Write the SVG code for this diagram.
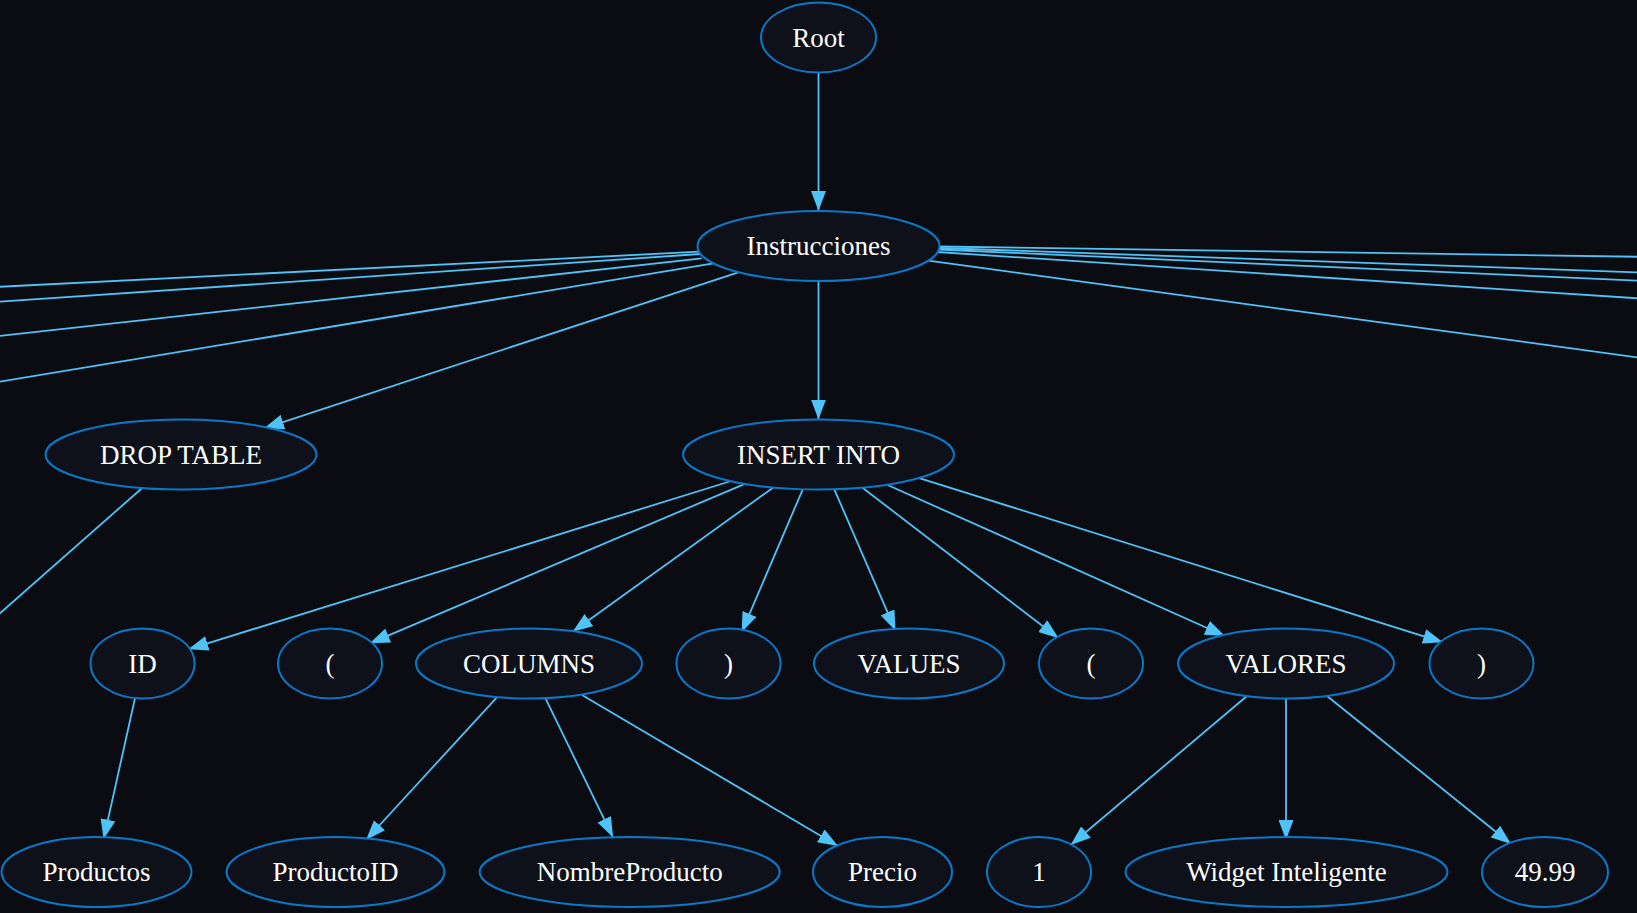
<svg xmlns="http://www.w3.org/2000/svg" width="1637" height="913" viewBox="0 0 1637 913">
<style>
.n ellipse{fill:#0e111a;stroke:#0a78c8;stroke-width:2}
.n text{fill:#ffffff;font-family:"Liberation Serif","Times New Roman",serif;font-size:27px;text-anchor:middle}
#edges line{stroke:#4fc3f7;stroke-width:1.8;fill:none}
#edges line.a{marker-end:url(#arr)}
</style>
<defs>
<marker id="arr" viewBox="0 0 20 15" refX="20" refY="7.5" markerWidth="20" markerHeight="15" markerUnits="userSpaceOnUse" orient="auto">
<path d="M0,0 L20,7.5 L0,15 z" fill="#4fc3f7"/>
</marker>
</defs>
<rect x="0" y="0" width="1637" height="913" fill="#0a0c11"/>
<g id="edges">
<line class="a" x1="818.5" y1="72.5" x2="818.5" y2="211"/>
<line x1="699" y1="251.7" x2="-5" y2="287"/>
<line x1="700" y1="254" x2="-5" y2="302"/>
<line x1="701.7" y1="258.3" x2="-5" y2="336.5"/>
<line x1="713.3" y1="263.3" x2="-5" y2="382.5"/>
<line class="a" x1="738.3" y1="272.3" x2="264" y2="428.3"/>
<line class="a" x1="818.5" y1="281" x2="818.5" y2="419.5"/>
<line x1="939" y1="246.5" x2="1642" y2="256.8"/>
<line x1="939" y1="248" x2="1642" y2="272.5"/>
<line x1="939" y1="249.5" x2="1642" y2="280.9"/>
<line x1="937" y1="252" x2="1642" y2="298.6"/>
<line x1="928.3" y1="260.7" x2="1642" y2="358"/>
<line x1="142.5" y1="487.7" x2="-5" y2="617.7"/>
<line class="a" x1="731.2" y1="481" x2="188.3" y2="649.3"/>
<line class="a" x1="743.7" y1="484.3" x2="369.8" y2="643.3"/>
<line class="a" x1="773" y1="487.7" x2="572.7" y2="631.7"/>
<line class="a" x1="802.8" y1="489.3" x2="741.6" y2="632.3"/>
<line class="a" x1="834.3" y1="489.3" x2="895.5" y2="630.7"/>
<line class="a" x1="862.5" y1="487.7" x2="1058.6" y2="638.3"/>
<line class="a" x1="887.6" y1="485" x2="1225" y2="636"/>
<line class="a" x1="920" y1="478.3" x2="1443" y2="642.3"/>
<line class="a" x1="135" y1="698.3" x2="103.6" y2="839.3"/>
<line class="a" x1="496.9" y1="697.3" x2="366" y2="840"/>
<line class="a" x1="545.5" y1="698.3" x2="613" y2="837.3"/>
<line class="a" x1="582" y1="695" x2="838" y2="846"/>
<line class="a" x1="1247" y1="696" x2="1070.7" y2="845"/>
<line class="a" x1="1286" y1="699" x2="1286" y2="840"/>
<line class="a" x1="1327" y1="696" x2="1511" y2="844"/>
</g>
<g id="root" class="n"><ellipse cx="818.5" cy="37.5" rx="57.5" ry="35"/><text x="818.5" y="46.5">Root</text></g>
<g id="instrucciones" class="n"><ellipse cx="818.5" cy="246" rx="121" ry="35"/><text x="818.5" y="255">Instrucciones</text></g>
<g id="drop_table" class="n"><ellipse cx="181" cy="454.5" rx="135.5" ry="35"/><text x="181" y="463.5">DROP TABLE</text></g>
<g id="insert_into" class="n"><ellipse cx="818.5" cy="454.5" rx="135.5" ry="35"/><text x="818.5" y="463.5">INSERT INTO</text></g>
<g id="id" class="n"><ellipse cx="142.5" cy="663.5" rx="52" ry="35"/><text x="142.5" y="672.5">ID</text></g>
<g id="lparen1" class="n"><ellipse cx="330" cy="663.5" rx="52" ry="35"/><text x="330" y="672.5">(</text></g>
<g id="columns" class="n"><ellipse cx="529" cy="663.5" rx="113" ry="35"/><text x="529" y="672.5">COLUMNS</text></g>
<g id="rparen1" class="n"><ellipse cx="728.5" cy="663.5" rx="52" ry="35"/><text x="728.5" y="672.5">)</text></g>
<g id="values" class="n"><ellipse cx="909" cy="663.5" rx="95" ry="35"/><text x="909" y="672.5">VALUES</text></g>
<g id="lparen2" class="n"><ellipse cx="1091" cy="663.5" rx="52" ry="35"/><text x="1091" y="672.5">(</text></g>
<g id="valores" class="n"><ellipse cx="1286" cy="663.5" rx="108" ry="35"/><text x="1286" y="672.5">VALORES</text></g>
<g id="rparen2" class="n"><ellipse cx="1481.5" cy="663.5" rx="52" ry="35"/><text x="1481.5" y="672.5">)</text></g>
<g id="productos" class="n"><ellipse cx="96.5" cy="872" rx="95" ry="35"/><text x="96.5" y="881">Productos</text></g>
<g id="productoid" class="n"><ellipse cx="335.5" cy="872" rx="109" ry="35"/><text x="335.5" y="881">ProductoID</text></g>
<g id="nombreproducto" class="n"><ellipse cx="629.7" cy="872" rx="150" ry="35"/><text x="629.7" y="881">NombreProducto</text></g>
<g id="precio" class="n"><ellipse cx="882.5" cy="872" rx="69.5" ry="35"/><text x="882.5" y="881">Precio</text></g>
<g id="val_1" class="n"><ellipse cx="1039" cy="872" rx="52" ry="35"/><text x="1039" y="881">1</text></g>
<g id="widget" class="n"><ellipse cx="1286.5" cy="872" rx="161" ry="35"/><text x="1286.5" y="881">Widget Inteligente</text></g>
<g id="val_4999" class="n"><ellipse cx="1545" cy="872" rx="63" ry="35"/><text x="1545" y="881">49.99</text></g>
</svg>
